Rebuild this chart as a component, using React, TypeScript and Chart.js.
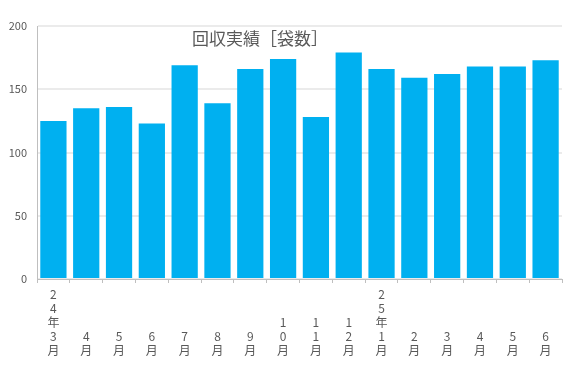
import React, { useEffect, useRef } from "react";
import { Chart, registerables } from "chart.js";

Chart.register(...registerables);

const categories = [
  "24年3月", "4月", "5月", "6月", "7月", "8月", "9月", "10月", "11月", "12月",
  "25年1月", "2月", "3月", "4月", "5月", "6月",
];
const bagCounts = [125, 135, 136, 123, 169, 139, 166, 174, 128, 179, 166, 159, 162, 168, 168, 173];
const chartTitle = "回収実績［袋数］";
const yMin = 0;
const yMax = 200;
const yStep = 50;

const FONT = "'Noto Sans CJK JP', 'Noto Sans', sans-serif";
const TEXT = "#595959";

const verticalLabel = (s: string, lines: number) => {
  const chars = Array.from(s);
  const pad: string[] = [];
  for (let i = chars.length; i < lines; i++) pad.push("");
  return [...pad, ...chars];
};

export default function App() {
  const ref = useRef<HTMLCanvasElement | null>(null);

  useEffect(() => {
    if (!ref.current) return;
    const maxLines = Math.max(...categories.map((c) => Array.from(c).length));
    const labels = categories.map((c) => verticalLabel(c, maxLines));

    const overlayTitle = {
      id: "overlayTitle",
      afterDraw(chart: any) {
        const ctx = chart.ctx;
        ctx.save();
        ctx.font = `17px ${FONT}`;
        ctx.fillStyle = TEXT;
        ctx.textAlign = "center";
        ctx.textBaseline = "middle";
        ctx.fillText(chartTitle, 260, 39);
        ctx.restore();
      },
    };

    const chart = new Chart(ref.current, {
      type: "bar",
      data: {
        labels,
        datasets: [
          {
            data: bagCounts,
            backgroundColor: "#00B0F0",
            borderWidth: 0,
            barPercentage: 0.8,
            categoryPercentage: 1,
          },
        ],
      },
      options: {
        animation: false,
        responsive: false,
        maintainAspectRatio: false,
        layout: { padding: { top: 26, right: 14, bottom: 0, left: 0 } },
        plugins: {
          legend: { display: false },
          title: { display: false },
          tooltip: { enabled: false },
        },
        scales: {
          x: {
            afterFit(scale: any) {
              scale.height = 106;
            },
            grid: {
              offset: true,
              drawOnChartArea: true,
              drawTicks: true,
              tickLength: 4,
              tickColor: "#bfbfbf",
              color: (c: any) => (c.index === categories.length ? "#ebebeb" : "rgba(0,0,0,0)"),
              lineWidth: 1,
            },
            border: { display: true, color: "#bfbfbf", width: 1 },
            ticks: {
              color: TEXT,
              font: { family: FONT, size: 12, lineHeight: "14px" },
              padding: 4,
              maxRotation: 0,
              autoSkip: false,
            },
          },
          y: {
            min: yMin,
            max: yMax,
            afterFit(scale: any) {
              scale.width = 37;
            },
            grid: {
              color: "#ebebeb",
              lineWidth: 2,
              drawTicks: false,
            },
            border: { display: true, color: "#bfbfbf", width: 1 },
            ticks: {
              stepSize: yStep,
              color: TEXT,
              font: { family: FONT, size: 11 },
              padding: 10,
            },
          },
        },
      },
      plugins: [overlayTitle],
    });
    return () => chart.destroy();
  }, []);

  return (
    <div style={{ position: "fixed", left: 0, top: 0, width: 576, height: 385, background: "#fff" }}>
      <canvas ref={ref} width={576} height={385} style={{ width: 576, height: 385 }} />
    </div>
  );
}
